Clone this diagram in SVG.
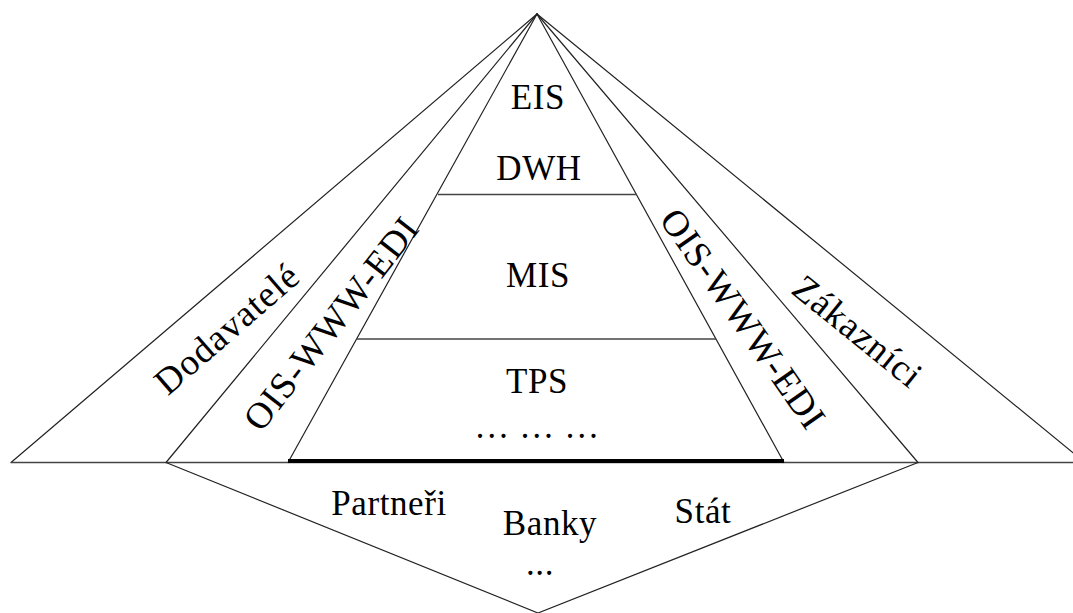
<svg xmlns="http://www.w3.org/2000/svg" width="1073" height="613" viewBox="0 0 1073 613">
<style>
.ln{stroke:#222;stroke-width:1.2;fill:none;stroke-linecap:round}
.hl{stroke:#444;stroke-width:1.4;fill:none}
.tx{font-family:"Liberation Serif","Times New Roman",serif;font-size:35px;letter-spacing:0.6px;fill:#000;text-anchor:middle}
.rt{font-size:37px;letter-spacing:1px}
</style>
<rect width="1073" height="613" fill="#fff"/>
<g id="connectors">
<line class="ln" x1="537" y1="14" x2="11" y2="462.5"/>
<line class="ln" x1="537" y1="14" x2="166" y2="462.5"/>
<line class="ln" x1="537" y1="14" x2="288" y2="462.5"/>
<line class="ln" x1="537" y1="14" x2="784" y2="462.5"/>
<line class="ln" x1="537" y1="14" x2="918" y2="462.5"/>
<line class="ln" x1="537" y1="14" x2="1085" y2="462.5"/>
<line class="hl" x1="11" y1="462.5" x2="1073" y2="462.5"/>
<line x1="288" y1="461" x2="784" y2="461" stroke="#000" stroke-width="4"/>
<line class="hl" x1="438" y1="194.5" x2="637" y2="194.5"/>
<line class="hl" x1="357" y1="339" x2="716" y2="339"/>
<polyline class="ln" points="166,462.5 538,613 918,462.5"/>
</g>
<g id="core">
<text class="tx" x="538" y="109">EIS</text>
<text class="tx" x="539" y="180">DWH</text>
<text class="tx" x="538" y="287">MIS</text>
<text class="tx" x="537" y="393">TPS</text>
<text class="tx" x="537" y="438">… … …</text>
</g>
<g id="left-side">
<text class="tx rt" transform="translate(235,338) rotate(-41)">Dodavatelé</text>
<text class="tx rt" transform="translate(341,331) rotate(-52)">OIS-WWW-EDI</text>
</g>
<g id="right-side">
<text class="tx rt" transform="translate(733,326) rotate(55)">OIS-WWW-EDI</text>
<text class="tx rt" transform="translate(850,341) rotate(39)">Zákazníci</text>
</g>
<g id="bottom">
<text class="tx" x="389" y="515">Partneři</text>
<text class="tx" x="550" y="535">Banky</text>
<text class="tx" x="703" y="523">Stát</text>
<text class="tx" x="540" y="575">...</text>
</g>
</svg>
